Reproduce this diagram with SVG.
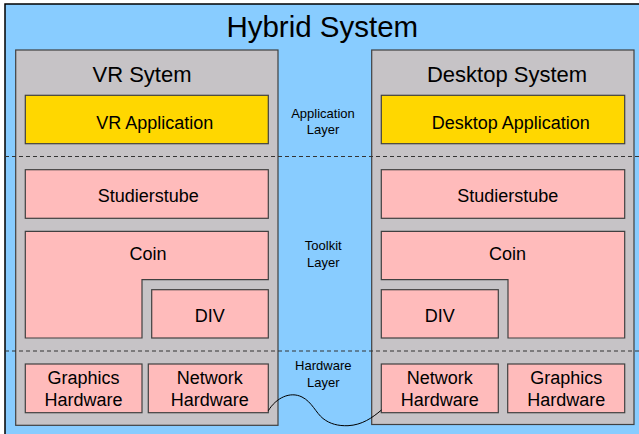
<svg xmlns="http://www.w3.org/2000/svg" width="639" height="434" viewBox="0 0 639 434">
<style>
text{font-family:"Liberation Sans",Arial,sans-serif;fill:#000;text-anchor:middle}
.sys{fill:#C6C3C6;stroke:#404040;stroke-width:1.2}
.app{fill:#FFD700;stroke:#404040;stroke-width:1.2}
.mod{fill:#FFBBBB;stroke:#404040;stroke-width:1.2}
.dash{stroke:#333;stroke-width:1;stroke-dasharray:4 3;fill:none}
.t18{font-size:18px}
.t13{font-size:13px}
.t22{font-size:22px}
</style>
<g id="hybrid">
<rect x="5" y="4" width="640" height="440" fill="#88CCFF" stroke="#000" stroke-width="1.5"/>
<text x="322.3" y="36.5" style="font-size:29.5px">Hybrid System</text>
</g>
<g id="vr-system">
<rect class="sys" x="15.7" y="50" width="262.3" height="375.3"/>
<text class="t22" x="142" y="81.7">VR Sytem</text>
</g>
<g id="desktop-system">
<rect class="sys" x="371.7" y="50" width="262.3" height="374.5"/>
<text class="t22" x="507" y="81.7">Desktop System</text>
</g>
<g id="layers">
<line class="dash" x1="5" y1="156.5" x2="639" y2="156.5"/>
<line class="dash" x1="5" y1="351" x2="639" y2="351"/>
<text class="t13" x="323" y="117.7">Application</text>
<text class="t13" x="323" y="134.3">Layer</text>
<text class="t13" x="323.3" y="250">Toolkit</text>
<text class="t13" x="323.3" y="266.7">Layer</text>
<text class="t13" x="323.3" y="370">Hardware</text>
<text class="t13" x="323.3" y="386.7">Layer</text>
</g>
<g id="vr-application">
<rect class="app" x="25.3" y="95.3" width="243" height="48.4"/>
<text class="t18" x="154.8" y="128.5">VR Application</text>
</g>
<g id="desktop-application">
<rect class="app" x="381.3" y="95.3" width="243.4" height="48.4"/>
<text class="t18" x="510.7" y="128.5">Desktop Application</text>
</g>
<g id="vr-studierstube">
<rect class="mod" x="25.3" y="169.7" width="243" height="48.6"/>
<text class="t18" x="148.3" y="202">Studierstube</text>
</g>
<g id="desktop-studierstube">
<rect class="mod" x="381.3" y="169.7" width="243.4" height="48.6"/>
<text class="t18" x="507.8" y="202">Studierstube</text>
</g>
<g id="vr-coin">
<polygon class="mod" points="25.3,231.3 268.3,231.3 268.3,279.7 142,279.7 142,338 25.3,338"/>
<text class="t18" x="148" y="260">Coin</text>
</g>
<g id="desktop-coin">
<polygon class="mod" points="381.3,231.3 624.7,231.3 624.7,338 508,338 508,279.7 381.3,279.7"/>
<text class="t18" x="507.5" y="260">Coin</text>
</g>
<g id="vr-div">
<rect class="mod" x="151.7" y="289.7" width="116.6" height="48.3"/>
<text class="t18" x="209.7" y="322.3">DIV</text>
</g>
<g id="desktop-div">
<rect class="mod" x="381.3" y="289.7" width="117" height="48.3"/>
<text class="t18" x="439.8" y="322.3">DIV</text>
</g>
<g id="vr-graphics-hardware">
<rect class="mod" x="25.3" y="364" width="116.7" height="48.7"/>
<text class="t18" x="83.5" y="384">Graphics</text>
<text class="t18" x="83.5" y="405.7">Hardware</text>
</g>
<g id="vr-network-hardware">
<rect class="mod" x="148.3" y="364" width="120" height="48.7"/>
<text class="t18" x="209.7" y="384">Network</text>
<text class="t18" x="209.7" y="405.7">Hardware</text>
</g>
<g id="desktop-network-hardware">
<rect class="mod" x="381.3" y="364" width="117" height="48.7"/>
<text class="t18" x="439.8" y="384">Network</text>
<text class="t18" x="439.8" y="405.7">Hardware</text>
</g>
<g id="desktop-graphics-hardware">
<rect class="mod" x="507.7" y="364" width="117" height="48.7"/>
<text class="t18" x="566.2" y="384">Graphics</text>
<text class="t18" x="566.2" y="405.7">Hardware</text>
</g>
<g id="connectors">
<path d="M268.3,410.7 C276,398 290,391 302,397 C312,402 316,413 323,418.5 C330,424 338,426 348,425.7 C362,425 372,418 381.5,410" fill="none" stroke="#000" stroke-width="1"/>
</g>
</svg>
